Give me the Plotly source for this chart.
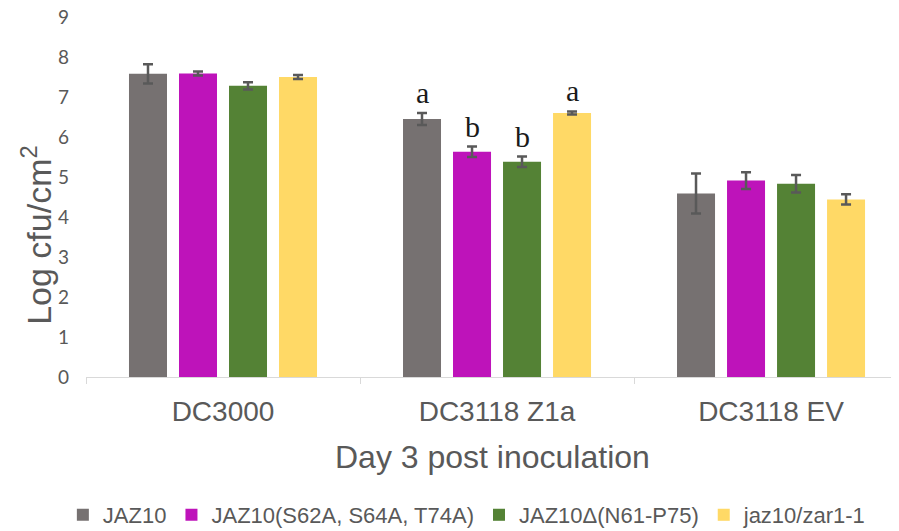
import plotly.graph_objects as go

categories = ["DC3000", "DC3118 Z1a", "DC3118 EV"]
series_names = ["JAZ10", "JAZ10(S62A, S64A, T74A)", "JAZ10Δ(N61-P75)", "jaz10/zar1-1"]
series_colors = ["#767171", "#BE13BA", "#548235", "#FFD966"]
values = [
    [7.58, 6.45, 4.59],
    [7.59, 5.63, 4.91],
    [7.28, 5.38, 4.83],
    [7.50, 6.60, 4.44],
]
errors = [
    [0.24, 0.15, 0.50],
    [0.05, 0.13, 0.21],
    [0.09, 0.13, 0.22],
    [0.05, 0.04, 0.13],
]
# significance letters for DC3118 Z1a group
letters = {1: ["a", "b", "b", "a"]}
y_ticks = list(range(0, 10))

fig = go.Figure()
for name, color, vals, errs in zip(series_names, series_colors, values, errors):
    fig.add_trace(go.Bar(
        x=categories, y=vals, name=name,
        marker=dict(color=color, line=dict(width=0)),
        error_y=dict(type="data", array=errs, visible=True,
                     color="#595959", thickness=2.5, width=5),
    ))

bargap = 0.27
n = len(series_names)
slot = (1 - bargap) / n
annotations = []
for ci, labs in letters.items():
    for si, lab in enumerate(labs):
        xpos = ci - (1 - bargap) / 2 + slot * (si + 0.5)
        annotations.append(dict(
            x=xpos, y=values[si][ci] + errors[si][ci], xref="x", yref="y",
            text=lab, showarrow=False, yanchor="bottom", yshift=2,
            font=dict(family="Liberation Serif", size=30, color="#1a1a1a"),
        ))

annotations.append(dict(
    x=0, y=0.395, xref="paper", yref="paper", xshift=-49,
    text="Log cfu/cm<sup>2</sup>", textangle=-90, showarrow=False,
    xanchor="center", yanchor="middle",
    font=dict(family="Liberation Sans", size=34, color="#595959"),
))
annotations.append(dict(
    x=0.5, y=0, xref="paper", yref="paper", yshift=-80,
    text="Day 3 post inoculation", showarrow=False,
    xanchor="center", yanchor="middle",
    font=dict(family="Liberation Sans", size=32, color="#595959"),
))

fig.update_layout(
    width=891, height=523,
    margin=dict(l=78, r=0, t=9, b=154, autoexpand=False),
    plot_bgcolor="white", paper_bgcolor="white",
    barmode="group", bargap=bargap, bargroupgap=0.24,
    showlegend=True,
    legend=dict(orientation="h", xref="container", yref="container",
                x=0.515, xanchor="center", y=0.0306, yanchor="middle",
                font=dict(family="Liberation Sans", size=22, color="#595959"),
                itemsizing="constant"),
    annotations=annotations,
    xaxis=dict(range=[-0.5, 2.467], showline=True, linecolor="#d9d9d9", linewidth=1,
               ticks="outside", tickson="boundaries", ticklen=6, tickcolor="#d9d9d9",
               tickfont=dict(family="Liberation Sans", size=28, color="#595959"),
               ticklabelstandoff=9, showgrid=False, zeroline=False, automargin=False),
    yaxis=dict(range=[0, 9], tickvals=y_ticks, showgrid=False, zeroline=False,
               showline=False, ticks="", ticklabeloverflow="allow",
               tickfont=dict(family="Lato", size=19, color="#595959"),
               ticklabelstandoff=16, automargin=False),
)

fig.write_html("out.html")
